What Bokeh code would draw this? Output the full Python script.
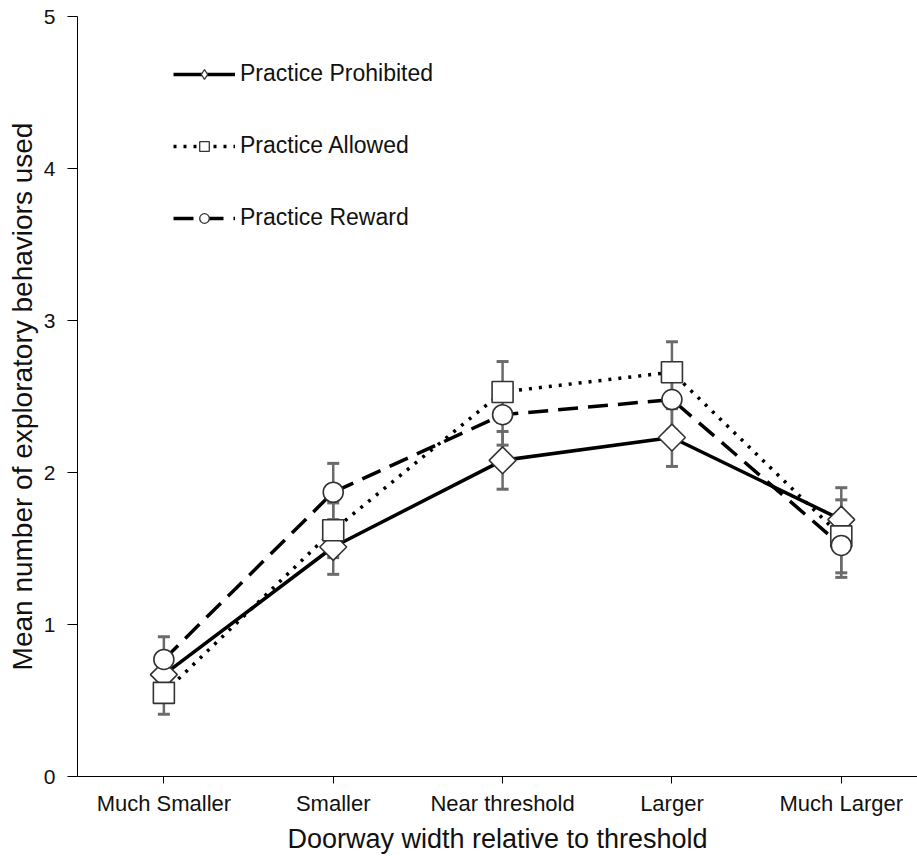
import numpy as np
from bokeh.plotting import figure
from bokeh.models import (ColumnDataSource, Range1d, FixedTicker, Whisker, TeeHead,
                          Legend, LegendItem)
from bokeh.embed import file_html
from bokeh.resources import INLINE

# ---- data ----
categories = ["Much Smaller", "Smaller", "Near threshold", "Larger", "Much Larger"]
prohibited = [0.67, 1.51, 2.08, 2.23, 1.69]
allowed = [0.55, 1.62, 2.53, 2.66, 1.58]
reward = [0.77, 1.87, 2.38, 2.48, 1.52]
se_prohibited = [0.14, 0.18, 0.19, 0.19, 0.21]
se_allowed = [0.14, 0.18, 0.20, 0.20, 0.24]
se_reward = [0.15, 0.19, 0.20, 0.20, 0.21]
series_names = ["Practice Prohibited", "Practice Allowed", "Practice Reward"]
y_ticks = [0, 1, 2, 3, 4, 5]

FONT = "Liberation Sans"
xpos = list(range(1, len(categories) + 1))

p = figure(width=917, height=856, output_backend="svg", toolbar_location=None,
           x_range=Range1d(0.49, 5.45), y_range=Range1d(0, 5),
           min_border_left=77, min_border_right=0, min_border_top=16, min_border_bottom=79)
p.grid.visible = False
p.outline_line_color = None
p.background_fill_color = "white"
p.border_fill_color = "white"

# axes
p.xaxis.ticker = FixedTicker(ticks=xpos)
p.xaxis.major_label_overrides = {i: c for i, c in zip(xpos, categories)}
p.yaxis.ticker = FixedTicker(ticks=y_ticks)
p.xaxis.minor_tick_line_color = None
p.yaxis.minor_tick_line_color = None
for ax in (p.xaxis, p.yaxis):
    ax.axis_line_color = "black"
    ax.axis_line_width = 1
    ax.major_tick_line_color = "black"
    ax.major_tick_in = 0
    ax.major_label_text_font = FONT
    ax.major_label_text_color = "#111111"
    ax.axis_label_text_font = FONT
    ax.axis_label_text_font_style = "normal"
    ax.axis_label_text_color = "#111111"
p.xaxis.major_tick_out = 7
p.yaxis.major_tick_out = 10
p.xaxis.major_label_text_font_size = "22px"
p.yaxis.major_label_text_font_size = "21px"
p.xaxis.major_label_standoff = 7
p.yaxis.major_label_standoff = 12
p.xaxis.axis_label = "Doorway width relative to threshold"
p.yaxis.axis_label = "Mean number of exploratory behaviors used"
p.xaxis.axis_label_text_font_size = "27px"
p.yaxis.axis_label_text_font_size = "28px"
p.xaxis.axis_label_standoff = 5
p.yaxis.axis_label_standoff = 3

vals = [prohibited, allowed, reward]
ses = [se_prohibited, se_allowed, se_reward]
dashes = ["solid", "3 7", "20 10"]
# (big marker, angle, big size, legend marker, legend size)
markers = [("square", np.pi / 4, 19, "diamond", 15),
           ("square", 0.0, 21, "square", 11),
           ("circle", 0.0, 20, "circle", 10)]

# error bars
ERR = "#6b6b6b"
for v, s in zip(vals, ses):
    src = ColumnDataSource(dict(x=xpos,
                                upper=[a + b for a, b in zip(v, s)],
                                lower=[a - b for a, b in zip(v, s)]))
    w = Whisker(base="x", upper="upper", lower="lower", source=src,
                line_color=ERR, line_width=2.5,
                upper_head=TeeHead(size=12, line_color=ERR, line_width=3),
                lower_head=TeeHead(size=12, line_color=ERR, line_width=3))
    p.add_layout(w)

# lines
lines = []
for v, d in zip(vals, dashes):
    lines.append(p.line(xpos, v, line_color="black", line_width=3.5, line_dash=d))

# small markers (used for the legend; hidden under the big ones)
small = []
for v, (m, ang, big, lm, sm) in zip(vals, markers):
    small.append(p.scatter(xpos, v, marker=lm, size=sm, fill_color="white",
                           line_color="#333333", line_width=1.3))

# big markers
for v, (m, ang, big, lm, sm) in zip(vals, markers):
    p.scatter(xpos, v, marker=m, angle=ang, size=big, fill_color="white",
              line_color="#333333", line_width=1.6)

items = [LegendItem(label=n, renderers=[l, s]) for n, l, s in zip(series_names, lines, small)]
legend = Legend(items=items, location=(96, 545), orientation="vertical",
                glyph_width=62, glyph_height=24, label_height=24, label_standoff=5,
                spacing=45, padding=0, margin=0,
                border_line_color=None, background_fill_alpha=0,
                label_text_font=FONT, label_text_font_size="23px",
                label_text_color="#111111")
p.add_layout(legend)

open("out.html", "w").write(file_html(p, INLINE))
